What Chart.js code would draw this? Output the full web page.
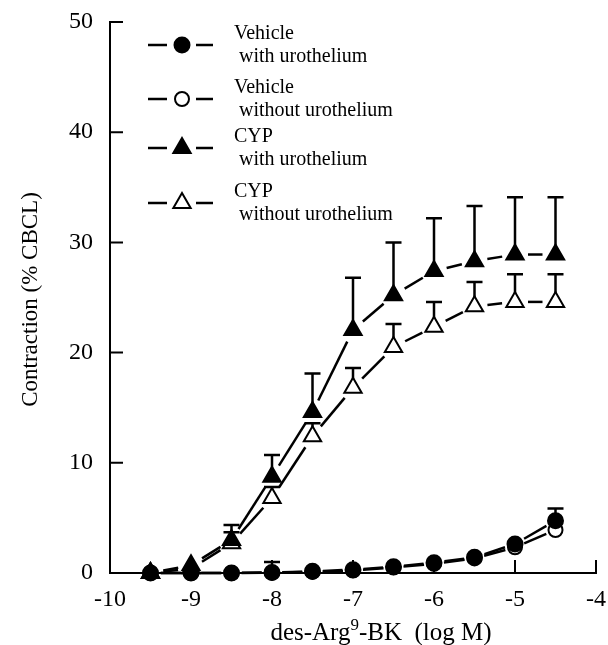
<!DOCTYPE html>
<html>
<head>
<meta charset="utf-8">
<title>des-Arg9-BK contraction</title>
<script src="https://cdn.jsdelivr.net/npm/chart.js"></script>
<style>
  html, body { margin: 0; padding: 0; background: #fff; }
</style>
</head>
<body>
<canvas id="curve" width="608" height="645"></canvas>
<script>
// log molar concentration of des-Arg9-BK
const doses = [-9.5, -9, -8.5, -8, -7.5, -7, -6.5, -6, -5.5, -5, -4.5];

// mean contraction (% CBCL) and upper SEM for each group
const vehicleWith = [0, 0, 0, 0.05, 0.15, 0.3, 0.57, 0.93, 1.42, 2.63, 4.75];
const vehicleWithSem = [0, 0, 0, 0.95, 0, 0, 0, 0, 0, 0, 1.1];
const vehicleWithout = [0, 0, 0, 0.03, 0.1, 0.22, 0.5, 0.82, 1.32, 2.33, 3.9];
const vehicleWithoutSem = [0, 0, 0, 0, 0, 0, 0, 0, 0, 0, 0];
const cypWith = [0, 0.7, 3.0, 8.74, 14.6, 22.05, 25.2, 27.4, 28.3, 28.9, 28.9];
const cypWithSem = [0, 0, 1.36, 1.96, 3.5, 4.75, 4.8, 4.8, 5.0, 5.2, 5.2];
const cypWithout = [0, 0.4, 2.7, 6.8, 12.4, 16.8, 20.5, 22.35, 24.2, 24.6, 24.6];
const cypWithoutSem = [0, 0, 1.0, 1.0, 1.2, 1.8, 2.1, 2.25, 2.2, 2.5, 2.5];

const xTicks = [-10, -9, -8, -7, -6, -5, -4];
const yTicks = [0, 10, 20, 30, 40, 50];

const legendTitles = ['Vehicle', 'Vehicle', 'CYP', 'CYP'];
const legendSubtitles = [' with urothelium', ' without urothelium', ' with urothelium', ' without urothelium'];

const black = '#000';
const serif = "'Liberation Serif', 'Times New Roman', serif";

function toPoints(values) {
  return values.map((v, i) => ({ x: doses[i], y: v }));
}

function series(label, values, sem, style, filled, radius) {
  return {
    label: label,
    data: toPoints(values),
    sem: sem,
    showLine: false, // joined by the gappedLines plugin below
    borderColor: black,
    pointStyle: style,
    pointRadius: radius,
    pointHoverRadius: radius,
    pointBackgroundColor: filled ? black : '#fff',
    pointBorderColor: black,
    pointBorderWidth: 2,
    clip: false
  };
}

// straight segments between points that stop short of the markers
const gappedLines = {
  id: 'gappedLines',
  beforeDatasetsDraw(chart) {
    const { ctx } = chart;
    ctx.save();
    ctx.strokeStyle = black;
    ctx.lineWidth = 2.5;
    chart.data.datasets.forEach((ds, d) => {
      const pts = chart.getDatasetMeta(d).data;
      const gap = ds.pointRadius + 3;
      for (let i = 1; i < pts.length; i++) {
        const a = pts[i - 1], b = pts[i];
        const dx = b.x - a.x, dy = b.y - a.y;
        const len = Math.hypot(dx, dy);
        if (len <= gap * 2 + 2) continue;
        const ux = dx / len, uy = dy / len;
        ctx.beginPath();
        ctx.moveTo(a.x + ux * gap, a.y + uy * gap);
        ctx.lineTo(b.x - ux * gap, b.y - uy * gap);
        ctx.stroke();
      }
    });
    ctx.restore();
  }
};

// upper-only SEM bars with caps
const errorBars = {
  id: 'errorBars',
  beforeDatasetsDraw(chart) {
    const { ctx, scales: { x, y } } = chart;
    ctx.save();
    ctx.strokeStyle = black;
    ctx.lineWidth = 2.5;
    chart.data.datasets.forEach(ds => {
      ds.sem.forEach((e, i) => {
        if (!e) return;
        const px = x.getPixelForValue(ds.data[i].x);
        const y0 = y.getPixelForValue(ds.data[i].y);
        const y1 = y.getPixelForValue(ds.data[i].y + e);
        ctx.beginPath();
        ctx.moveTo(px, y0);
        ctx.lineTo(px, y1);
        ctx.moveTo(px - 8, y1);
        ctx.lineTo(px + 8, y1);
        ctx.stroke();
      });
    });
    ctx.restore();
  }
};

// tick marks pointing into the plot
const innerTicks = {
  id: 'innerTicks',
  beforeDatasetsDraw(chart) {
    const { ctx, chartArea, scales: { x, y } } = chart;
    ctx.save();
    ctx.strokeStyle = black;
    ctx.lineWidth = 2;
    ctx.beginPath();
    yTicks.forEach(v => {
      const py = y.getPixelForValue(v);
      ctx.moveTo(chartArea.left, py);
      ctx.lineTo(chartArea.left + 13, py);
    });
    xTicks.forEach(v => {
      const px = x.getPixelForValue(v);
      ctx.moveTo(px, chartArea.bottom);
      ctx.lineTo(px, chartArea.bottom - 13);
    });
    ctx.stroke();
    ctx.restore();
  }
};

// axis titles, with a raised 9 in the x title
const axisTitles = {
  id: 'axisTitles',
  afterDraw(chart) {
    const { ctx, chartArea } = chart;
    ctx.save();
    ctx.fillStyle = black;
    ctx.textBaseline = 'middle';

    ctx.save();
    ctx.translate(31, (chartArea.top + chartArea.bottom) / 2 + 2);
    ctx.rotate(-Math.PI / 2);
    ctx.textAlign = 'center';
    ctx.font = '23px ' + serif;
    ctx.fillText('Contraction (% CBCL)', 0, 0);
    ctx.restore();

    const parts = [['des-Arg', 25, 0], ['9', 17, -7], ['-BK  (log M)', 25, 0]];
    let total = 0;
    parts.forEach(p => { ctx.font = p[1] + 'px ' + serif; total += ctx.measureText(p[0]).width; });
    let cx = 381 - total / 2;
    ctx.textAlign = 'left';
    parts.forEach(p => {
      ctx.font = p[1] + 'px ' + serif;
      ctx.fillText(p[0], cx, 633 + p[2]);
      cx += ctx.measureText(p[0]).width;
    });
    ctx.restore();
  }
};

// legend in the upper left of the plot: -- marker -- and two lines of text
const markerLegend = {
  id: 'markerLegend',
  afterDraw(chart) {
    const { ctx } = chart;
    const rowY = [45, 99, 148, 203];
    ctx.save();
    chart.data.datasets.forEach((ds, i) => {
      const y = rowY[i];
      ctx.strokeStyle = black;
      ctx.lineWidth = 2.5;
      ctx.beginPath();
      ctx.moveTo(148, y); ctx.lineTo(167, y);
      ctx.moveTo(196, y); ctx.lineTo(213, y);
      ctx.stroke();
      ctx.fillStyle = ds.pointBackgroundColor;
      ctx.strokeStyle = black;
      ctx.lineWidth = 2;
      Chart.helpers.drawPoint(ctx, { pointStyle: ds.pointStyle, radius: ds.pointRadius, borderWidth: 2, rotation: 0 }, 182, y);
      ctx.fillStyle = black;
      ctx.font = '20px ' + serif;
      ctx.textAlign = 'left';
      ctx.textBaseline = 'middle';
      ctx.fillText(legendTitles[i], 234, y - 11);
      ctx.fillText(legendSubtitles[i], 234, y + 12);
    });
    ctx.restore();
  }
};

new Chart(document.getElementById('curve'), {
  type: 'line',
  data: {
    datasets: [
      series('Vehicle with urothelium', vehicleWith, vehicleWithSem, 'circle', true, 7.5),
      series('Vehicle without urothelium', vehicleWithout, vehicleWithoutSem, 'circle', false, 7),
      series('CYP with urothelium', cypWith, cypWithSem, 'triangle', true, 10),
      series('CYP without urothelium', cypWithout, cypWithoutSem, 'triangle', false, 10)
    ]
  },
  options: {
    responsive: false,
    animation: false,
    devicePixelRatio: 1,
    layout: { padding: { top: 22, right: 7, bottom: 0, left: 0 } },
    plugins: {
      legend: { display: false },
      tooltip: { enabled: false }
    },
    scales: {
      x: {
        type: 'linear',
        min: -10,
        max: -4,
        grid: { display: false, drawTicks: false },
        border: { display: true, color: black, width: 2 },
        ticks: { stepSize: 1, padding: 12, color: black, maxRotation: 0, font: { family: serif, size: 24 } },
        afterFit(scale) { scale.height = 72; scale.paddingLeft = 0; scale.paddingRight = 0; }
      },
      y: {
        min: 0,
        max: 50,
        grid: { display: false, drawTicks: false },
        border: { display: true, color: black, width: 2 },
        ticks: { stepSize: 10, padding: 17, color: black, font: { family: serif, size: 24 } },
        afterFit(scale) { scale.width = 110; scale.paddingTop = 0; scale.paddingBottom = 0; }
      }
    }
  },
  plugins: [gappedLines, errorBars, innerTicks, axisTitles, markerLegend]
});
</script>
</body>
</html>
